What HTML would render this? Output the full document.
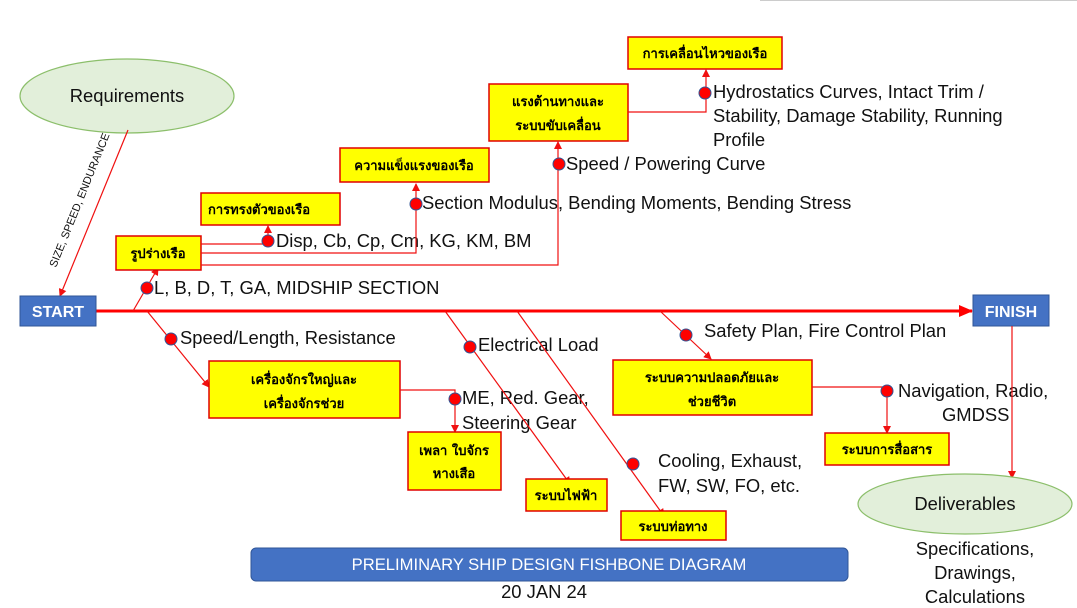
<!DOCTYPE html>
<html><head><meta charset="utf-8"><style>
html,body{margin:0;padding:0;background:#fff;}
svg{display:block;}
text{font-family:"Liberation Sans","DejaVu Sans",sans-serif;}
.t{font-size:18.4px;fill:#111;}
.th{font-size:13px;font-weight:bold;fill:#000;font-family:"DejaVu Sans",sans-serif;}
.box{fill:#ffff00;stroke:#e00000;stroke-width:1.5;}
.ln{stroke:#f01010;stroke-width:1.2;fill:none;}
.hx{fill:#ff0000;stroke:#2f5597;stroke-width:1;}
</style></head><body>
<svg width="1077" height="608" viewBox="0 0 1077 608" xmlns="http://www.w3.org/2000/svg">
<defs>
<marker id="a" markerWidth="8" markerHeight="8" refX="7" refY="4" orient="auto" markerUnits="userSpaceOnUse"><path d="M0,0 L8,4 L0,8 z" fill="#f01010"/></marker>
<marker id="b" markerWidth="14" markerHeight="12" refX="13" refY="6" orient="auto" markerUnits="userSpaceOnUse"><path d="M0,0 L14,6 L0,12 z" fill="#f00"/></marker>
</defs>
<line x1="760" y1="0.5" x2="1077" y2="0.5" stroke="#ccc"/>
<!-- Requirements -->
<ellipse cx="127" cy="96" rx="107" ry="37" fill="#e2efda" stroke="#8cbf6b" stroke-width="1.2"/>
<text x="127" y="102" class="t" text-anchor="middle">Requirements</text>
<line class="ln" x1="128" y1="130" x2="60" y2="296" marker-end="url(#a)"/>
<text x="0" y="0" font-size="11" fill="#111" transform="translate(56,268) rotate(-68)">SIZE, SPEED, ENDURANCE</text>
<!-- main spine -->
<line x1="96" y1="311" x2="972" y2="311" stroke="#f00" stroke-width="3" marker-end="url(#b)"/>
<rect x="20" y="296" width="76" height="30" fill="#4472c4" stroke="#2f5597"/>
<text x="58" y="317" text-anchor="middle" font-size="16" font-weight="bold" fill="#fff">START</text>
<rect x="973" y="295" width="76" height="31" fill="#4472c4" stroke="#2f5597"/>
<text x="1011" y="317" text-anchor="middle" font-size="16" font-weight="bold" fill="#fff">FINISH</text>
<!-- upper branch -->
<line class="ln" x1="133" y1="311" x2="158" y2="268" marker-end="url(#a)"/>
<circle class="hx" cx="147" cy="288" r="6"/>
<text x="154" y="294" class="t">L, B, D, T, GA, MIDSHIP SECTION</text>
<rect class="box" x="116" y="236" width="85" height="34"/>
<text x="158" y="258" class="th" text-anchor="middle">รูปร่างเรือ</text>
<polyline class="ln" points="201,244 267,244"/>
<line class="ln" x1="268" y1="240" x2="268" y2="226" marker-end="url(#a)"/>
<circle class="hx" cx="268" cy="241" r="6"/>
<text x="276" y="247" class="t">Disp, Cb, Cp, Cm, KG, KM, BM</text>
<rect class="box" x="201" y="193" width="139" height="32"/>
<text x="208" y="214" class="th">การทรงตัวของเรือ</text>
<polyline class="ln" points="201,253 416,253 416,184" marker-end="url(#a)"/>
<circle class="hx" cx="416" cy="204" r="6"/>
<text x="422" y="209" class="t">Section Modulus, Bending Moments, Bending Stress</text>
<rect class="box" x="340" y="148" width="149" height="34"/>
<text x="414" y="170" class="th" text-anchor="middle">ความแข็งแรงของเรือ</text>
<polyline class="ln" points="201,265 558,265 558,142" marker-end="url(#a)"/>
<circle class="hx" cx="559" cy="164" r="6"/>
<text x="566" y="170" class="t">Speed / Powering Curve</text>
<rect class="box" x="489" y="84" width="139" height="57"/>
<text x="558" y="106" class="th" text-anchor="middle">แรงต้านทางและ</text>
<text x="558" y="130" class="th" text-anchor="middle">ระบบขับเคลื่อน</text>
<polyline class="ln" points="628,112 706,112 706,70" marker-end="url(#a)"/>
<circle class="hx" cx="705" cy="93" r="6"/>
<text x="713" y="98" class="t">Hydrostatics Curves, Intact Trim /</text>
<text x="713" y="122" class="t">Stability, Damage Stability, Running</text>
<text x="713" y="146" class="t">Profile</text>
<rect class="box" x="628" y="37" width="154" height="32"/>
<text x="705" y="58" class="th" text-anchor="middle">การเคลื่อนไหวของเรือ</text>
<!-- lower branches -->
<line class="ln" x1="147" y1="311" x2="209" y2="387" marker-end="url(#a)"/>
<circle class="hx" cx="171" cy="339" r="6"/>
<text x="180" y="344" class="t">Speed/Length, Resistance</text>
<rect class="box" x="209" y="361" width="191" height="57"/>
<text x="304" y="384" class="th" text-anchor="middle">เครื่องจักรใหญ่และ</text>
<text x="304" y="408" class="th" text-anchor="middle">เครื่องจักรช่วย</text>
<polyline class="ln" points="400,390 455,390 455,432" marker-end="url(#a)"/>
<circle class="hx" cx="455" cy="399" r="6"/>
<text x="462" y="404" class="t">ME, Red. Gear,</text>
<text x="462" y="429" class="t">Steering Gear</text>
<rect class="box" x="408" y="432" width="93" height="58"/>
<text x="454" y="455" class="th" text-anchor="middle">เพลา ใบจักร</text>
<text x="454" y="478" class="th" text-anchor="middle">หางเสือ</text>
<line class="ln" x1="445" y1="311" x2="570" y2="484" marker-end="url(#a)"/>
<circle class="hx" cx="470" cy="347" r="6"/>
<text x="478" y="351" class="t">Electrical Load</text>
<rect class="box" x="526" y="479" width="81" height="32"/>
<text x="566" y="500" class="th" text-anchor="middle">ระบบไฟฟ้า</text>
<line class="ln" x1="517" y1="311" x2="664" y2="516" marker-end="url(#a)"/>
<circle class="hx" cx="633" cy="464" r="6"/>
<text x="658" y="467" class="t">Cooling, Exhaust,</text>
<text x="658" y="492" class="t">FW, SW, FO, etc.</text>
<rect class="box" x="621" y="511" width="105" height="29"/>
<text x="673" y="531" class="th" text-anchor="middle">ระบบท่อทาง</text>
<line class="ln" x1="660" y1="311" x2="711" y2="359" marker-end="url(#a)"/>
<circle class="hx" cx="686" cy="335" r="6"/>
<text x="704" y="337" class="t">Safety Plan, Fire Control Plan</text>
<rect class="box" x="613" y="360" width="199" height="55"/>
<text x="712" y="382" class="th" text-anchor="middle">ระบบความปลอดภัยและ</text>
<text x="712" y="406" class="th" text-anchor="middle">ช่วยชีวิต</text>
<polyline class="ln" points="812,387 887,387"/>
<line class="ln" x1="887" y1="391" x2="887" y2="433" marker-end="url(#a)"/>
<circle class="hx" cx="887" cy="391" r="6"/>
<text x="898" y="397" class="t">Navigation, Radio,</text>
<text x="942" y="421" class="t">GMDSS</text>
<rect class="box" x="825" y="433" width="124" height="32"/>
<text x="887" y="454" class="th" text-anchor="middle">ระบบการสื่อสาร</text>
<!-- finish -> deliverables -->
<line class="ln" x1="1012" y1="326" x2="1012" y2="478" marker-end="url(#a)"/>
<ellipse cx="965" cy="504" rx="107" ry="30" fill="#e2efda" stroke="#8cbf6b" stroke-width="1.2"/>
<text x="965" y="510" class="t" text-anchor="middle">Deliverables</text>
<text x="975" y="555" class="t" text-anchor="middle">Specifications,</text>
<text x="975" y="579" class="t" text-anchor="middle">Drawings,</text>
<text x="975" y="603" class="t" text-anchor="middle">Calculations</text>
<!-- title -->
<rect x="251" y="548" width="597" height="33" rx="5" fill="#4472c4" stroke="#2f5597"/>
<text x="549" y="570" text-anchor="middle" font-size="16.6" fill="#fff">PRELIMINARY SHIP DESIGN FISHBONE DIAGRAM</text>
<text x="544" y="598" text-anchor="middle" class="t" font-size="16.6">20 JAN 24</text>
</svg>
</body></html>
